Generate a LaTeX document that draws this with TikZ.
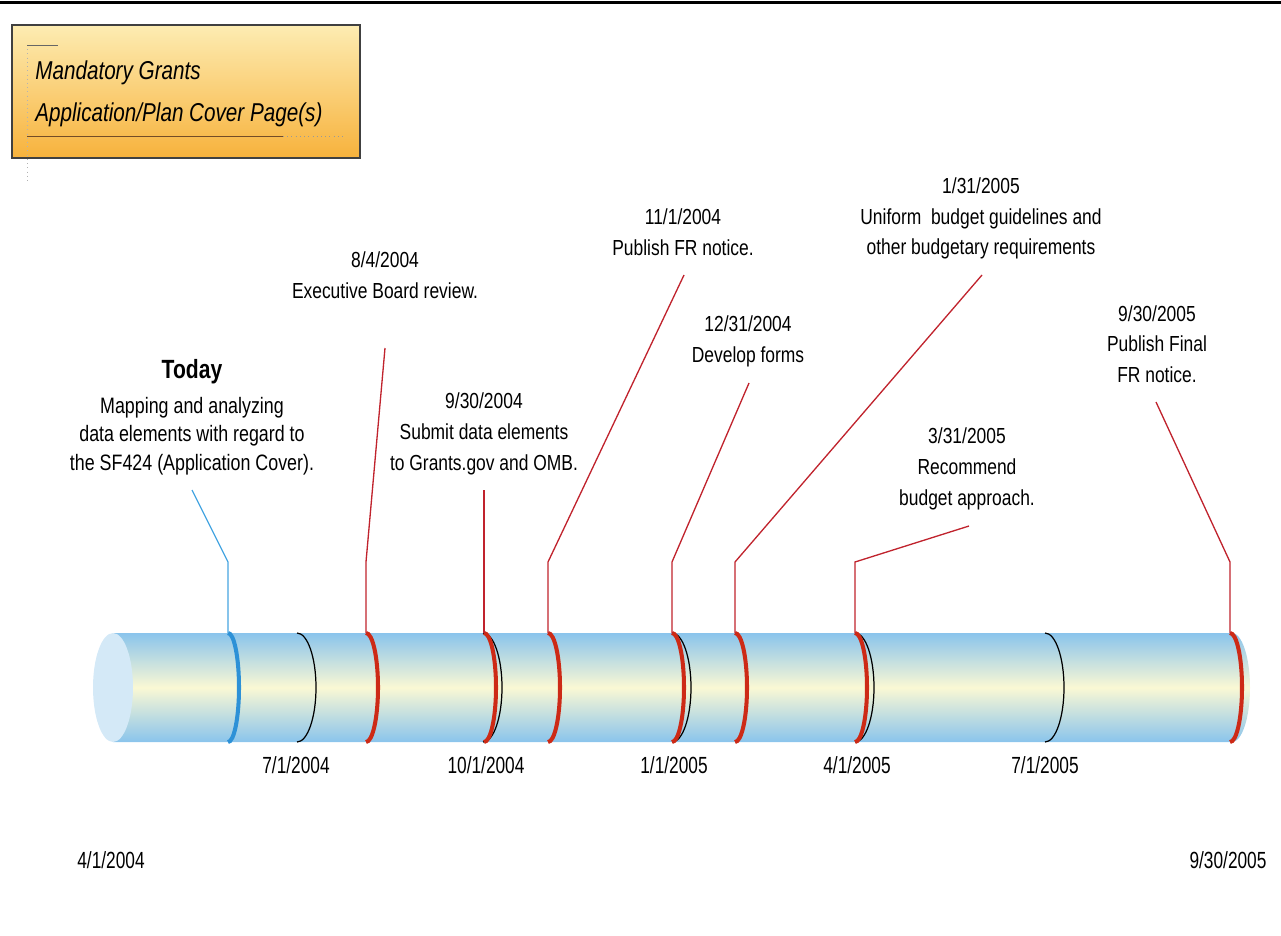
\documentclass[tikz,border=0pt]{standalone}
\usepackage{fontspec}
\setmainfont{Liberation Sans}[FakeStretch=0.8]
\newfontfamily\datefont{Liberation Sans}[FakeStretch=0.74]
\usetikzlibrary{positioning}

\definecolor{tubeblue}{RGB}{138,196,236}
\definecolor{tubecream}{RGB}{250,248,212}
\definecolor{tubecap}{RGB}{212,233,247}
\definecolor{markred}{RGB}{205,42,22}
\definecolor{leadred}{RGB}{192,35,45}
\definecolor{markblue}{RGB}{45,145,215}
\definecolor{leadblue}{RGB}{70,165,225}
\definecolor{boxtop}{RGB}{253,236,178}
\definecolor{boxbot}{RGB}{247,178,60}

\begin{document}
\begin{tikzpicture}[x=0.02cm, y=0.02cm,
    lbl/.style={align=center, inner sep=0pt, font=\fontsize{12.4}{17.5}\selectfont},
    datelbl/.style={inner sep=0pt, font=\datefont\fontsize{13.3}{16}\selectfont},
    redmark/.style={draw=markred, line width=2.3pt},
    bluemark/.style={draw=markblue, line width=2.3pt},
    quarter/.style={draw=black, line width=0.7pt},
    redlead/.style={draw=leadred, line width=0.75pt},
    bluelead/.style={draw=leadblue, line width=0.75pt}]
  \useasboundingbox (0,0) rectangle (1281,-936);
  \fill (0,-1) rectangle (1281,-4);

  % title box
  \draw[black!75, line width=0.8pt, top color=boxtop, bottom color=boxbot]
    (12,-25) rectangle (360,-158);
  \draw[black!30, dotted] (27,-45) -- (27,-182);
  \draw[black!60, line width=0.4pt] (27,-45) -- (58,-45);
  \draw[brown!60!black, line width=0.5pt] (27,-136) -- (283,-136);
  \draw[black!40, dotted] (283,-136) -- (343,-136);
  \node[anchor=west, align=left, inner sep=0pt,
        font=\itshape\fontsize{14.7}{23.8}\selectfont] (title) at (35,-94)
    {Mandatory Grants\\Application/Plan Cover Page(s)};

  % the tube
  \shade[top color=tubeblue, bottom color=tubeblue, middle color=tubecream]
    (113,-633) -- (1232,-633)
    arc[start angle=90, end angle=-90, x radius=18, y radius=54.5]
    -- (113,-742) -- cycle;
  \fill[tubecap] (113,-687.5) ellipse[x radius=20, y radius=54.5];

  \foreach \x in {297,483,672,855,1045}
    \draw[quarter] (\x,-633) arc[start angle=90, end angle=-90, x radius=19, y radius=54.5];
  \foreach \x in {366,484,548,672,735,855,1230}
    \draw[redmark] (\x,-633) arc[start angle=90, end angle=-90, x radius=12, y radius=54.5];
  \draw[bluemark] (228,-633) arc[start angle=90, end angle=-90, x radius=11, y radius=54.5];

  % dates under the tube
  \node[datelbl] (jul04) at (296,-765) {7/1/2004};
  \node[datelbl] (oct04) at (486,-765) {10/1/2004};
  \node[datelbl] (jan05) at (674,-765) {1/1/2005};
  \node[datelbl] (apr05) at (857,-765) {4/1/2005};
  \node[datelbl] (jul05) at (1045,-765) {7/1/2005};
  \node[datelbl] (start) at (111,-860) {4/1/2004};
  \node[datelbl] (end) at (1228,-860) {9/30/2005};

  % callouts
  \node[font=\bfseries\fontsize{15}{17}\selectfont, inner sep=0pt] (today) at (192,-372) {Today};
  \node[lbl, font=\fontsize{12.7}{16.3}\selectfont] (todaytxt) at (192,-436)
    {Mapping and analyzing\\data elements with regard to\\the SF424 (Application Cover).};
  \node[lbl] (board) at (385,-275.5) {8/4/2004\\Executive Board review.};
  \node[lbl] (submit) at (484,-434) {9/30/2004\\Submit data elements\\to Grants.gov and OMB.};
  \node[lbl] (frnote) at (683,-232) {11/1/2004\\Publish FR notice.};
  \node[lbl] (forms) at (748,-341) {12/31/2004\\Develop forms};
  \node[lbl] (budget) at (981,-218.5) {1/31/2005\\Uniform\ \ budget guidelines and\\other budgetary requirements};
  \node[lbl] (recomm) at (967,-469) {3/31/2005\\Recommend\\budget approach.};
  \node[lbl] (final) at (1157,-344) {9/30/2005\\Publish Final\\FR notice.};

  \coordinate (todaybase) at (228,-633);
  \coordinate (todaybend) at (228,-562);
  \coordinate (todayend) at (192,-490);
  \coordinate (boardbase) at (366,-633);
  \coordinate (boardbend) at (366,-562);
  \coordinate (boardend) at (385,-348);
  \coordinate (submitbase) at (484,-633);
  \coordinate (submitend) at (484,-490);
  \coordinate (frbase) at (548,-633);
  \coordinate (frbend) at (548,-562);
  \coordinate (frend) at (684,-275);
  \coordinate (formsbase) at (672,-633);
  \coordinate (formsbend) at (672,-562);
  \coordinate (formsend) at (749,-383);
  \coordinate (budgetbase) at (735,-633);
  \coordinate (budgetbend) at (735,-562);
  \coordinate (budgetend) at (982,-275);
  \coordinate (recommbase) at (855,-633);
  \coordinate (recommbend) at (855,-562);
  \coordinate (recommend) at (969,-526);
  \coordinate (finalbase) at (1230,-633);
  \coordinate (finalbend) at (1230,-562);
  \coordinate (finalend) at (1156,-402);

  \draw[bluelead] (todaybase) -- (todaybend) -- (todayend);
  \draw[redlead] (boardbase) -- (boardbend) -- (boardend);
  \draw[redlead] (submitbase) -- (submitend);
  \draw[redlead] (frbase) -- (frbend) -- (frend);
  \draw[redlead] (formsbase) -- (formsbend) -- (formsend);
  \draw[redlead] (budgetbase) -- (budgetbend) -- (budgetend);
  \draw[redlead] (recommbase) -- (recommbend) -- (recommend);
  \draw[redlead] (finalbase) -- (finalbend) -- (finalend);
\end{tikzpicture}
\end{document}
